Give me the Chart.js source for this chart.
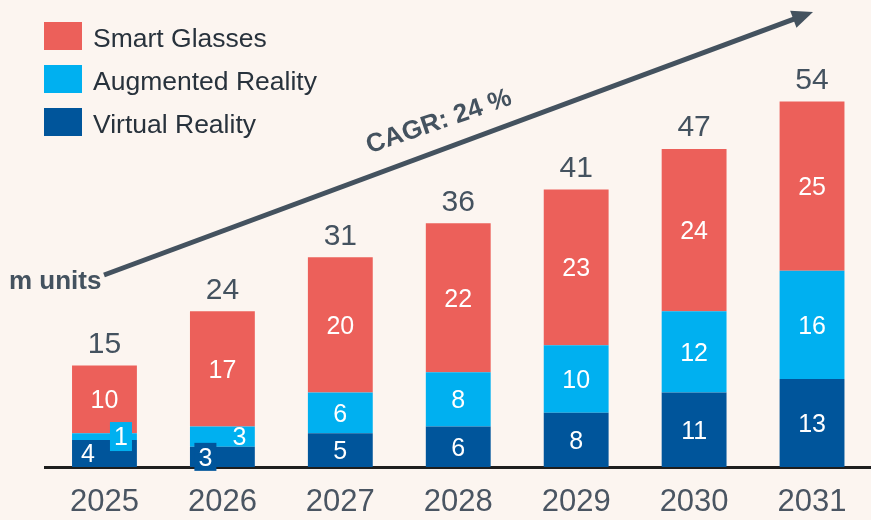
<!DOCTYPE html>
<html><head><meta charset="utf-8">
<script src="https://cdn.jsdelivr.net/npm/chart.js@4"></script>
<style>
html,body{margin:0;padding:0;background:#FCF5F0;}
#wrap{width:871px;height:520px;position:relative;}
canvas{display:block;}
</style>
</head><body>
<div id="wrap"><canvas id="c" width="871" height="520"></canvas></div>
<script>
// ---- data ----
const years = ['2025', '2026', '2027', '2028', '2029', '2030', '2031'];
const virtualReality = [4, 3, 5, 6, 8, 11, 13];
const augmentedReality = [1, 3, 6, 8, 10, 12, 16];
const smartGlasses = [10, 17, 20, 22, 23, 24, 25];
const totals = [15, 24, 31, 36, 41, 47, 54];
const seriesNames = ['Virtual Reality', 'Augmented Reality', 'Smart Glasses'];
const cagrLabel = 'CAGR: 24 %';
const unitLabel = 'm units';

// ---- styles ----
const COLORS = {vr: '#00559B', ar: '#00B0F0', sg: '#EC605A'};
const TEXT_GRAY = '#44525F';
const FONT = '"Liberation Sans", Arial, Helvetica, sans-serif';
// label placement tweaks (dataset label -> index -> offsets / box)
const labelTweaks = {
  'Virtual Reality': {0: {dx: -16.5}, 1: {dx: -17, box: [22, 28]}},
  'Augmented Reality': {0: {dx: 16.5, box: [22, 29]}, 1: {dx: 17}}
};

const labelPlugin = {
  id: 'segLabels',
  afterDatasetsDraw(chart) {
    const ctx = chart.ctx;
    ctx.save();
    chart.data.datasets.forEach((ds, di) => {
      const meta = chart.getDatasetMeta(di);
      meta.data.forEach((el, i) => {
        const v = ds.data[i];
        const tw = (labelTweaks[ds.label] || {})[i] || {};
        const cx = el.x + (tw.dx || 0);
        const cy = (el.y + el.base) / 2 + (tw.dy || 0);
        if (tw.box) {
          ctx.fillStyle = ds.backgroundColor;
          ctx.fillRect(cx - tw.box[0] / 2, cy - tw.box[1] / 2, tw.box[0], tw.box[1]);
        }
        ctx.font = '25px ' + FONT;
        ctx.fillStyle = '#FFFFFF';
        ctx.textAlign = 'center';
        ctx.textBaseline = 'alphabetic';
        ctx.fillText(String(v), cx, cy + 0.358 * 25);
      });
    });
    // totals
    const top = chart.getDatasetMeta(chart.data.datasets.length - 1);
    top.data.forEach((el, i) => {
      ctx.font = '30px ' + FONT;
      ctx.fillStyle = TEXT_GRAY;
      ctx.textAlign = 'center';
      ctx.textBaseline = 'alphabetic';
      ctx.fillText(String(totals[i]), el.x, el.y - 12.5);
    });
    ctx.restore();
  }
};

const decoPlugin = {
  id: 'deco',
  afterDraw(chart) {
    const ctx = chart.ctx;
    ctx.save();
    // legend (top entry = top of stack)
    const order = [2, 1, 0];
    order.forEach((di, row) => {
      const ds = chart.data.datasets[di];
      const cy = 36 + row * 43;
      ctx.fillStyle = ds.backgroundColor;
      ctx.fillRect(44, cy - 14, 38, 28);
      ctx.fillStyle = '#28323C';
      ctx.font = '26.5px ' + FONT;
      ctx.textAlign = 'left';
      ctx.textBaseline = 'alphabetic';
      ctx.fillText(ds.label, 93, cy + 10.5);
    });
    // m units
    ctx.fillStyle = TEXT_GRAY;
    ctx.font = 'bold 26px ' + FONT;
    ctx.textAlign = 'left';
    ctx.fillText(unitLabel, 9, 289);
    // arrow
    const x0 = 104, y0 = 275, x1 = 813, y1 = 12;
    const ang = Math.atan2(y1 - y0, x1 - x0);
    const headL = 21, headW = 9;
    const bx = x1 - headL * Math.cos(ang), by = y1 - headL * Math.sin(ang);
    ctx.strokeStyle = '#44525F';
    ctx.lineWidth = 5;
    ctx.lineCap = 'butt';
    ctx.beginPath();
    ctx.moveTo(x0, y0);
    ctx.lineTo(bx + 2 * Math.cos(ang), by + 2 * Math.sin(ang));
    ctx.stroke();
    ctx.fillStyle = '#44525F';
    ctx.beginPath();
    ctx.moveTo(x1, y1);
    ctx.lineTo(bx - headW * Math.sin(ang), by + headW * Math.cos(ang));
    ctx.lineTo(bx + headW * Math.sin(ang), by - headW * Math.cos(ang));
    ctx.closePath();
    ctx.fill();
    // CAGR label
    ctx.save();
    ctx.translate(439, 122);
    ctx.rotate(-19 * Math.PI / 180);
    ctx.font = 'bold 26px ' + FONT;
    ctx.textAlign = 'center';
    ctx.textBaseline = 'middle';
    ctx.fillStyle = TEXT_GRAY;
    ctx.fillText(cagrLabel, 0, 0);
    ctx.restore();
    ctx.restore();
  }
};

const bgPlugin = {
  id: 'bg',
  beforeDraw(chart) {
    const ctx = chart.ctx;
    ctx.save();
    ctx.fillStyle = '#FCF5F0';
    ctx.fillRect(0, 0, chart.width, chart.height);
    ctx.restore();
  }
};

new Chart(document.getElementById('c'), {
  type: 'bar',
  data: {
    labels: years,
    datasets: [
      {label: seriesNames[0], data: virtualReality, backgroundColor: COLORS.vr},
      {label: seriesNames[1], data: augmentedReality, backgroundColor: COLORS.ar},
      {label: seriesNames[2], data: smartGlasses, backgroundColor: COLORS.sg}
    ]
  },
  options: {
    responsive: false,
    animation: false,
    devicePixelRatio: 1,
    layout: {padding: {left: 45.5, right: 0, top: 0, bottom: 0}},
    datasets: {bar: {categoryPercentage: 0.55, barPercentage: 1.0}},
    plugins: {legend: {display: false}, tooltip: {enabled: false}},
    scales: {
      x: {
        stacked: true,
        z: 1,
        grid: {display: false, drawTicks: false},
        border: {display: true, color: '#1E1E1E', width: 3},
        ticks: {color: '#4A5562', font: {family: FONT, size: 31}, padding: 17},
        afterFit(scale) { scale.height = 53; }
      },
      y: {
        stacked: true,
        display: false,
        min: 0,
        max: 69
      }
    }
  },
  plugins: [bgPlugin, labelPlugin, decoPlugin]
});
</script>
</body></html>
